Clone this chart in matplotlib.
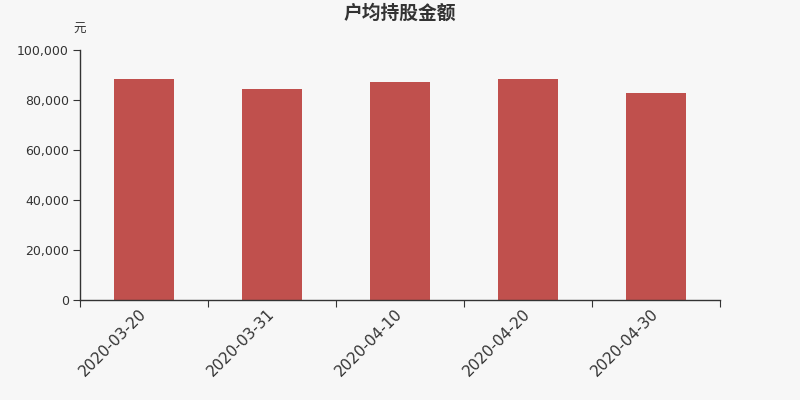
import matplotlib
matplotlib.use("Agg")
import matplotlib.pyplot as plt
from matplotlib.ticker import FuncFormatter, MultipleLocator
import numpy as np

plt.rcParams['font.family'] = ['DejaVu Sans', 'Noto Sans CJK SC']

categories = ["2020-03-20", "2020-03-31", "2020-04-10", "2020-04-20", "2020-04-30"]
values = [88400, 84300, 87200, 88400, 82800]

bg = "#f7f7f7"
bar_color = "#c0504d"
axis_color = "#333333"

fig = plt.figure(figsize=(8, 4), dpi=100, facecolor=bg)
ax = fig.add_axes([80/800, 1-300/400, 640/800, 250/400], facecolor=bg)

x = np.arange(len(categories))
ax.bar(x, values, width=60/128, color=bar_color)

ax.set_xlim(-0.5, len(categories) - 0.5)
ax.set_ylim(0, 100000)
ax.yaxis.set_major_locator(MultipleLocator(20000))
ax.yaxis.set_major_formatter(FuncFormatter(lambda v, p: f"{int(v):,}"))

ax.set_xticks(np.arange(-0.5, len(categories)), minor=False)
ax.set_xticklabels([])
ax.set_xticks(x, minor=True)
ax.set_xticklabels(categories, minor=True, rotation=45, ha='right', va='center',
                   rotation_mode='anchor', fontsize=11, color=axis_color)
ax.tick_params(axis='x', which='minor', length=0, pad=8)
ax.tick_params(axis='x', which='major', length=5, color=axis_color, direction='out')
ax.tick_params(axis='y', length=5, color=axis_color, labelsize=9, labelcolor=axis_color, pad=3)

for s in ['top', 'right']:
    ax.spines[s].set_visible(False)
for s in ['left', 'bottom']:
    ax.spines[s].set_color(axis_color)
    ax.spines[s].set_linewidth(1)

fig.text(0.5, 1-13/400, "户均持股金额", ha='center', va='center', fontsize=13.5,
         fontweight='bold', color=axis_color, family=['Noto Sans CJK SC', 'DejaVu Sans'])
fig.text(80/800, 1-29/400, "元", ha='center', va='center', fontsize=9, color=axis_color,
         family=['Noto Sans CJK SC', 'DejaVu Sans'])

fig.savefig("out.png", dpi=100, facecolor=bg)
